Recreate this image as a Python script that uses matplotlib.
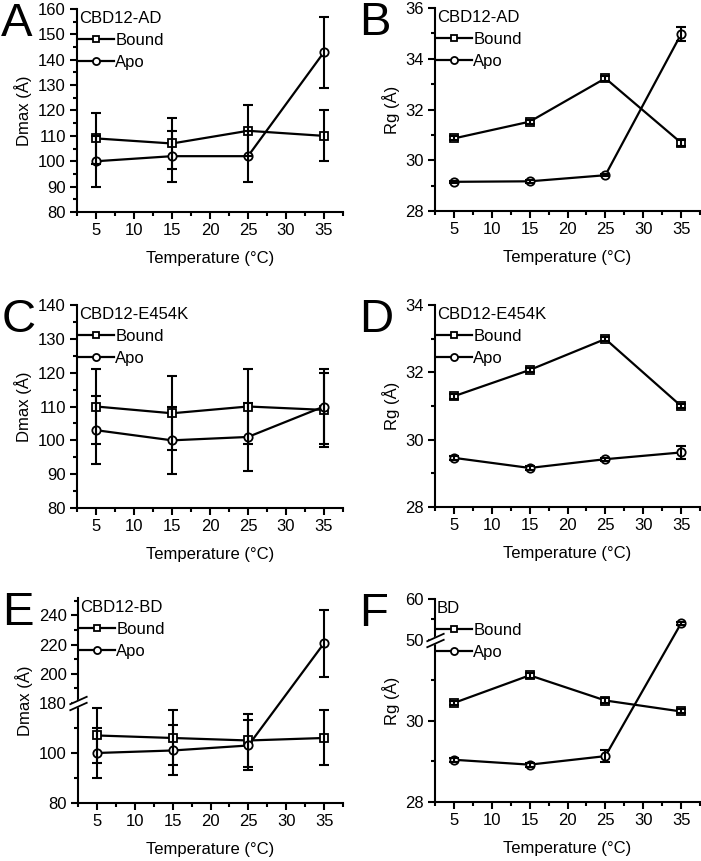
import numpy as np
import matplotlib
matplotlib.use("Agg")
from matplotlib import pyplot as plt
from matplotlib.scale import FuncScale
from matplotlib.ticker import FixedLocator, MultipleLocator
from matplotlib.transforms import ScaledTranslation, blended_transform_factory

plt.rcParams['font.family'] = ['Liberation Sans', 'DejaVu Sans']
plt.rcParams['font.size'] = 12

# temperature (deg C)
temps = [5, 15, 25, 35]

# A: CBD12-AD Dmax
a_bound = [109, 107, 112, 110]
a_bound_err = [10, 10, 10, 10]
a_apo = [100, 102, 102, 143]
a_apo_err = [10, 10, 10, 14]

# B: CBD12-AD Rg
b_bound = [30.86, 31.52, 33.23, 30.69]
b_bound_err = [0.08, 0.08, 0.1, 0.12]
b_apo = [29.15, 29.17, 29.41, 34.97]
b_apo_err = [0.05, 0.05, 0.05, 0.28]

# C: CBD12-E454K Dmax
c_bound = [110, 108, 110, 109]
c_bound_err = [11, 11, 11, 11]
c_apo = [103, 100, 101, 110]
c_apo_err = [10, 10, 10, 11]

# D: CBD12-E454K Rg
d_bound = [31.29, 32.07, 32.99, 31.0]
d_bound_err = [0.07, 0.07, 0.07, 0.07]
d_apo = [29.46, 29.16, 29.42, 29.62]
d_apo_err = [0.06, 0.06, 0.05, 0.2]

# E: CBD12-BD Dmax (broken axis)
e_bound = [107, 106, 105, 106]
e_bound_err = [11, 11, 10.5, 11]
e_apo = [100, 101, 103, 221]
e_apo_err = [10, 10, 10, 23]

# F: BD Rg (broken axis)
f_bound = [30.44, 31.12, 30.5, 30.23]
f_bound_err = [0.05, 0.06, 0.05, 0.05]
f_apo = [29.04, 28.92, 29.13, 54.0]
f_apo_err = [0.05, 0.05, 0.15, 0.3]


def broken_scale(ax, b1, b2, ratio):
    """piecewise linear y scale: gap between b1 and b2 squeezed out"""
    eps = 1e-4
    big = 1e6
    xp = [-big, b1, b2, big]
    fp = [-big, b1, b1 + eps, b1 + eps + (big - b2) * ratio]
    fwd = lambda v: np.interp(v, xp, fp)
    inv = lambda v: np.interp(v, fp, xp)
    ax.set_yscale(FuncScale(ax, (fwd, inv)))


def break_mark(ax, yval):
    tr = blended_transform_factory(ax.transAxes, ax.transData)
    slash = [(-1, -0.45), (1, 0.45)]
    fig = ax.figure
    off = ScaledTranslation(0, 0, fig.dpi_scale_trans)
    ax.plot([0], [yval], transform=tr + off, marker=slash, ms=13, mec='white',
            mew=5, ls='none', clip_on=False, zorder=10)
    for dy in (-2.2, 2.2):
        off = ScaledTranslation(0, dy / 72, fig.dpi_scale_trans)
        ax.plot([0], [yval], transform=tr + off, marker=slash, ms=13,
                mec='black', mew=1.3, ls='none', clip_on=False, zorder=11)


def panel(rect, letter, name, bound, bound_err, apo, apo_err, ylabel):
    ax = fig.add_axes(rect)
    ax.plot(temps, bound, color='black', lw=1.6, marker='s', ms=5.5,
            mfc='white', mec='black', mew=1.3, label='Bound', zorder=2)
    ax.plot(temps, apo, color='black', lw=1.6, marker='o', ms=6,
            mfc='white', mec='black', mew=1.3, label='Apo', zorder=2)
    ax.errorbar(temps, bound, yerr=bound_err, fmt='none', ecolor='black',
                elinewidth=1.5, capsize=3.3, capthick=1.5, zorder=3)
    ax.errorbar(temps, apo, yerr=apo_err, fmt='none', ecolor='black',
                elinewidth=1.5, capsize=3.3, capthick=1.5, zorder=3)
    ax.set_xlim(2.5, 37.5)
    ax.xaxis.set_major_locator(FixedLocator([5, 10, 15, 20, 25, 30, 35]))
    ax.xaxis.set_minor_locator(MultipleLocator(2.5))
    for s in ['top', 'right']:
        ax.spines[s].set_visible(False)
    for s in ['left', 'bottom']:
        ax.spines[s].set_linewidth(1.5)
    ax.tick_params(which='major', direction='out', length=5, width=1.5, pad=3)
    ax.tick_params(which='minor', direction='out', length=3, width=1.5)
    ax.set_xlabel('Temperature (°C)', labelpad=9)
    ax.set_ylabel(ylabel, labelpad=4)
    ax.legend(loc='upper left', bbox_to_anchor=(0.0, 1.0), frameon=False,
              title=name, alignment='left', borderaxespad=0.1, borderpad=0,
              handlelength=2.1, handletextpad=0.1, labelspacing=0.42,
              title_fontsize=12, fontsize=12, markerscale=0.85)
    fig.text(rect[0] - 0.108, rect[1] + rect[3] + 0.008, letter,
             fontsize=34, va='top', ha='left')
    return ax


def set_y(ax, ylim, major, minor):
    ax.set_ylim(*ylim)
    ax.yaxis.set_major_locator(FixedLocator(major))
    ax.yaxis.set_minor_locator(FixedLocator(minor))


fig = plt.figure(figsize=(7.01, 8.61), dpi=100)
W, H = 701.0, 861.0


def rect(l, t, r, b):
    return [l / W, 1 - b / H, (r - l) / W, (b - t) / H]


ax = panel(rect(77, 9, 343, 212), 'A', 'CBD12-AD', a_bound, a_bound_err,
           a_apo, a_apo_err, 'Dmax (Å)')
set_y(ax, (80, 160), np.arange(80, 161, 10), np.arange(85, 160, 10))

ax = panel(rect(435, 8, 700, 211), 'B', 'CBD12-AD', b_bound, b_bound_err,
           b_apo, b_apo_err, 'Rg (Å)')
set_y(ax, (28, 36), np.arange(28, 37, 2), np.arange(29, 36, 2))

ax = panel(rect(77, 305, 343, 508), 'C', 'CBD12-E454K', c_bound, c_bound_err,
           c_apo, c_apo_err, 'Dmax (Å)')
set_y(ax, (80, 140), np.arange(80, 141, 10), np.arange(85, 140, 10))

ax = panel(rect(435, 305, 700, 507), 'D', 'CBD12-E454K', d_bound, d_bound_err,
           d_apo, d_apo_err, 'Rg (Å)')
set_y(ax, (28, 34), np.arange(28, 35, 2), np.arange(29, 34, 2))

# E: broken Dmax axis
ax = panel(rect(78, 598, 343, 803), 'E', 'CBD12-BD', e_bound, e_bound_err,
           e_apo, e_apo_err, 'Dmax (Å)')
broken_scale(ax, 120, 180, 0.583)
set_y(ax, (80, 252), [80, 100, 180, 200, 220, 240],
      [90, 110, 190, 210, 230, 250])
break_mark(ax, 120)

# F: broken Rg axis
ax = panel(rect(435, 599, 700, 802), 'F', 'BD', f_bound, f_bound_err,
           f_apo, f_apo_err, 'Rg (Å)')
broken_scale(ax, 32, 50, 0.1)
set_y(ax, (28, 60), [28, 30, 50, 60], [29, 31, 55])
break_mark(ax, 32)

fig.savefig('out.png', dpi=100)
